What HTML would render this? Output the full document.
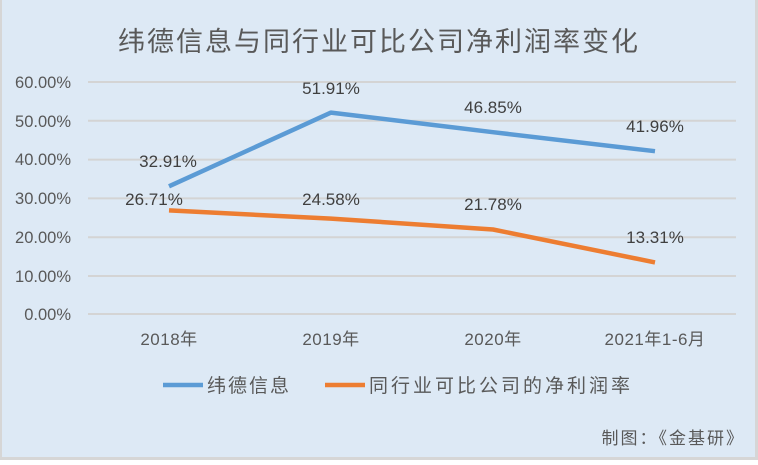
<!DOCTYPE html>
<html><head><meta charset="utf-8"><style>
body{margin:0;}
svg text{font-family:"Liberation Sans","Noto Sans CJK SC",sans-serif;}
</style></head><body>
<svg width="758" height="460" xmlns="http://www.w3.org/2000/svg">
<rect x="0" y="0" width="758" height="460" fill="#d6d6d6"/>
<rect x="2" y="0" width="753" height="457" fill="#dde9f5"/>
<text x="379" y="51" text-anchor="middle" font-size="27" letter-spacing="2" fill="#595959">纬德信息与同行业可比公司净利润率变化</text>
<g stroke="#d4d4d4" stroke-width="2">
<line x1="88" y1="82" x2="736" y2="82"/>
<line x1="88" y1="120.8" x2="736" y2="120.8"/>
<line x1="88" y1="159.6" x2="736" y2="159.6"/>
<line x1="88" y1="198.4" x2="736" y2="198.4"/>
<line x1="88" y1="237.2" x2="736" y2="237.2"/>
<line x1="88" y1="276" x2="736" y2="276"/>
<line x1="88" y1="314" x2="736" y2="314"/>
</g>
<g font-size="16.5" fill="#595959" text-anchor="end">
<text x="71" y="88">60.00%</text>
<text x="71" y="127">50.00%</text>
<text x="71" y="165">40.00%</text>
<text x="71" y="204">30.00%</text>
<text x="71" y="243">20.00%</text>
<text x="71" y="282">10.00%</text>
<text x="71" y="320">0.00%</text>
</g>
<g font-size="17" letter-spacing="0.5" fill="#595959" text-anchor="middle">
<text x="169" y="345">2018年</text>
<text x="331" y="345">2019年</text>
<text x="493" y="345">2020年</text>
<text x="655" y="345">2021年1-6月</text>
</g>
<polyline points="169,186.3 331,112.6 493,132.2 655,151.2" fill="none" stroke="#5b9bd5" stroke-width="4.5" stroke-linejoin="round"/>
<polyline points="169,210.4 331,218.6 493,229.5 655,262.4" fill="none" stroke="#ed7d31" stroke-width="4.5" stroke-linejoin="round"/>
<g font-size="17" fill="#404040" text-anchor="middle">
<text x="168" y="167">32.91%</text>
<text x="331" y="94">51.91%</text>
<text x="493" y="113">46.85%</text>
<text x="655" y="132">41.96%</text>
<text x="154" y="205">26.71%</text>
<text x="331" y="205">24.58%</text>
<text x="493" y="210">21.78%</text>
<text x="655" y="243">13.31%</text>
</g>
<line x1="163" y1="385" x2="203" y2="385" stroke="#5b9bd5" stroke-width="4.5"/>
<text x="207" y="392" font-size="19" letter-spacing="2" fill="#595959">纬德信息</text>
<line x1="325" y1="385" x2="365" y2="385" stroke="#ed7d31" stroke-width="4.5"/>
<text x="369" y="392" font-size="19" letter-spacing="3" fill="#595959">同行业可比公司的净利润率</text>
<text x="745" y="444" font-size="17" letter-spacing="2" fill="#595959" text-anchor="end">制图：《金基研》</text>
</svg>
</body></html>
